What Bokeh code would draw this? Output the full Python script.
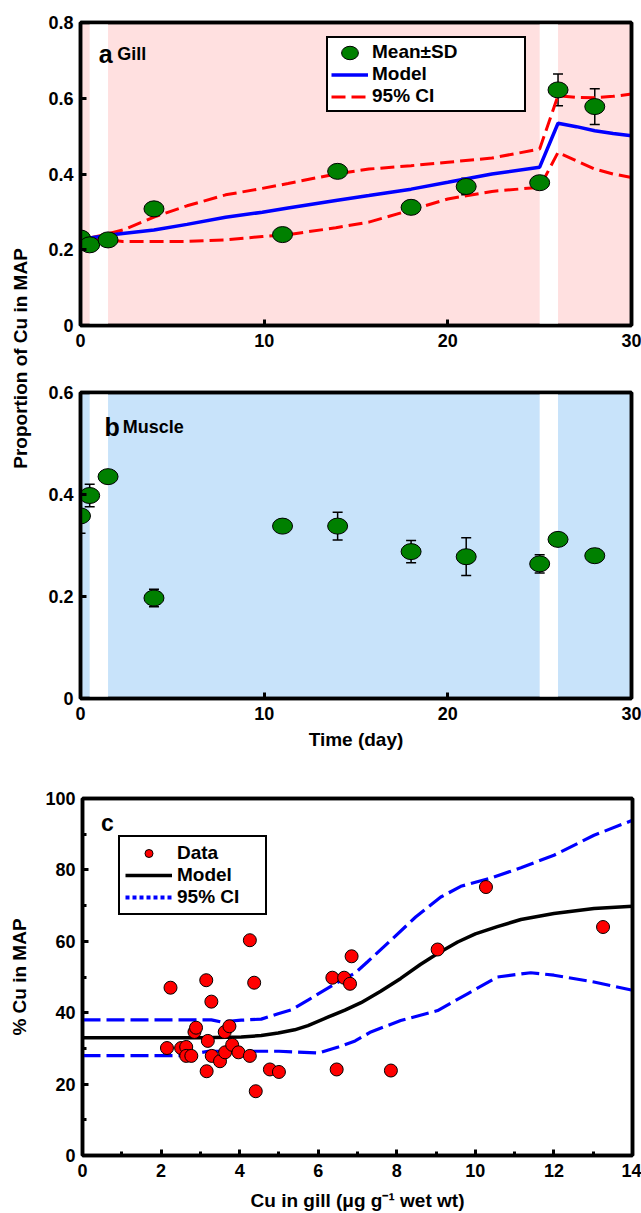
from math import pi
from bokeh.plotting import figure
from bokeh.models import (Range1d, FixedTicker, BoxAnnotation, Whisker, TeeHead,
                          ColumnDataSource, Legend, LegendItem, Label, LinearAxis)
from bokeh.layouts import column, row
from bokeh.embed import file_html
from bokeh.resources import INLINE

FONT = "Liberation Sans"

# ---------------- data ----------------
days = [0, 0.5, 1.5, 4, 11, 14, 18, 21, 25, 26, 28]
gill_mean = [0.231, 0.213, 0.226, 0.308, 0.240, 0.407, 0.312, 0.367, 0.377, 0.622, 0.578]
gill_sd = [0.010, 0.015, 0.008, 0.010, 0.008, 0.012, 0.010, 0.022, 0.010, 0.042, 0.047]
muscle_mean = [0.358, 0.398, 0.435, 0.197, 0.338, 0.338, 0.288, 0.278, 0.264, 0.312, 0.280]
muscle_sd = [0.034, 0.022, 0.010, 0.017, 0.010, 0.027, 0.022, 0.037, 0.018, 0.010, 0.013]

model_days = [0.5, 1.5, 2.3, 4, 5.8, 7.9, 9.9, 11.3, 13.9, 15.7, 18, 20, 22.4, 25, 26, 27, 28, 29, 30]
gill_model = [0.231, 0.238, 0.243, 0.252, 0.267, 0.286, 0.299, 0.310, 0.330, 0.343, 0.360,
              0.378, 0.400, 0.418, 0.534, 0.525, 0.514, 0.507, 0.501]
gill_ci_upper = [0.231, 0.242, 0.252, 0.286, 0.316, 0.345, 0.362, 0.375, 0.400, 0.413, 0.422,
                 0.431, 0.442, 0.466, 0.607, 0.602, 0.601, 0.605, 0.611]
gill_ci_lower = [0.229, 0.226, 0.222, 0.222, 0.222, 0.226, 0.235, 0.240, 0.258, 0.273, 0.305,
                 0.334, 0.354, 0.365, 0.457, 0.435, 0.413, 0.400, 0.391]

# depuration / re-exposure gaps (white stripes)
gap_start = [0.5, 25]
gap_end = [1.5, 26]

gill_cu = [2.15, 2.24, 2.51, 2.64, 2.64, 2.77, 2.85, 2.89, 3.15, 3.16, 3.19, 3.28, 3.29, 3.50,
           3.62, 3.63, 3.74, 3.81, 3.97, 4.26, 4.26, 4.37, 4.41, 4.77, 5.00, 6.36, 6.47, 6.66,
           6.81, 6.85, 7.85, 9.04, 10.27, 13.25]
map_pct = [30.1, 47.0, 30.1, 30.4, 27.9, 27.9, 34.6, 35.8, 49.1, 23.6, 32.1, 43.1, 27.9, 26.4,
           34.6, 28.9, 36.2, 31.0, 28.9, 60.3, 27.9, 48.4, 18.0, 24.1, 23.4, 49.8, 24.1, 49.8,
           48.1, 55.8, 23.8, 57.7, 75.2, 64.0]

c_model_x = [0, 1, 2, 3, 4.04, 4.55, 4.98, 5.4, 5.74, 6.26, 6.68, 7.09, 7.59, 8.1, 8.6, 9.04,
             9.55, 10.0, 10.56, 11.16, 12.0, 13.02, 14]
c_model_y = [33.0, 33.0, 33.0, 33.0, 33.2, 33.6, 34.3, 35.2, 36.4, 38.8, 40.7, 42.8, 46.0, 49.6,
             53.5, 56.6, 59.8, 62.1, 64.1, 66.1, 67.8, 69.2, 69.8]
c_upper_x = [0, 3.28, 3.53, 4.04, 4.55, 4.98, 5.32, 5.74, 6.0, 6.51, 6.94, 7.25, 7.85, 8.48,
             9.12, 9.63, 10.39, 11.16, 12.0, 13.02, 14]
c_upper_y = [38.0, 38.0, 37.4, 37.9, 38.2, 39.7, 40.8, 43.5, 45.3, 48.6, 51.1, 54.2, 60.3, 66.8,
             72.4, 75.4, 77.7, 80.6, 84.1, 89.7, 93.9]
c_lower_x = [0, 2.6, 3.2, 5.0, 5.4, 6.0, 6.51, 6.94, 7.34, 8.1, 9.04, 9.8, 10.56, 11.41, 12.0,
             13.02, 14]
c_lower_y = [28.0, 28.0, 29.2, 29.2, 29.0, 28.7, 30.4, 32.1, 34.6, 37.8, 40.6, 45.3, 50.0, 51.2,
             50.5, 48.6, 46.3]

time_ticks = [0, 10, 20, 30]
gill_yticks = [0, 0.2, 0.4, 0.6, 0.8]
muscle_yticks = [0, 0.2, 0.4, 0.6]
c_xticks = [0, 2, 4, 6, 8, 10, 12, 14]
c_xminor = [1, 3, 5, 7, 9, 11, 13]
c_yticks = [0, 20, 40, 60, 80, 100]
c_yminor = [10, 30, 50, 70, 90]

PINK = "#FFE0E0"
BLUE = "#C8E3FA"
GREEN = "#008000"


def style(p):
    p.grid.visible = False
    p.outline_line_color = "black"
    p.outline_line_width = 3.5
    p.outline_line_alpha = 1
    # plain axes on top and right so the frame is drawn thick on all sides
    for side in ("above", "right"):
        ax = LinearAxis(ticker=FixedTicker(ticks=[]), axis_line_width=3.5,
                        axis_line_color="black", major_tick_in=0, major_tick_out=0,
                        minor_tick_in=0, minor_tick_out=0, major_label_standoff=0,
                        major_label_text_font_size="0px")
        p.add_layout(ax, side)
    for ax in p.xaxis + p.yaxis:
        ax.axis_line_width = 3.5
        ax.axis_line_color = "black"
        ax.major_tick_line_width = 3
        ax.minor_tick_line_width = 3
        ax.major_tick_line_color = "black"
        ax.minor_tick_line_color = "black"
        ax.major_tick_out = 0
        ax.minor_tick_out = 0
        ax.major_label_text_font = FONT
        ax.major_label_text_font_style = "bold"
        ax.major_label_text_color = "black"
        ax.axis_label_text_font = FONT
        ax.axis_label_text_font_style = "bold"
        ax.axis_label_text_font_size = "19px"
        ax.axis_label_text_color = "black"
    for ax in (p.below[0], p.left[0]):
        ax.major_tick_in = 6
        ax.minor_tick_in = 0
        ax.major_label_text_font_size = "18px"
    p.below[0].major_label_standoff = 8
    p.left[0].major_label_standoff = 7


def time_panel(height, top, bottom, ymax, yticks, bg):
    p = figure(width=601, height=height, x_range=Range1d(0, 30), y_range=Range1d(0, ymax),
               output_backend="svg", toolbar_location=None,
               min_border_left=40, min_border_right=10, min_border_top=top,
               min_border_bottom=bottom)
    p.background_fill_color = bg
    p.border_fill_color = "white"
    style(p)
    p.below[0].ticker = FixedTicker(ticks=time_ticks)
    p.left[0].ticker = FixedTicker(ticks=yticks)
    p.left[0].major_label_overrides = {0: "0"}
    for a, b in zip(gap_start, gap_end):
        p.add_layout(BoxAnnotation(left=a, right=b, fill_color="white", fill_alpha=1,
                                   line_alpha=0, level="underlay"))
    return p


def add_points(p, mean, sd):
    src = ColumnDataSource(dict(x=days, y=mean,
                                upper=[m + s for m, s in zip(mean, sd)],
                                lower=[m - s for m, s in zip(mean, sd)]))
    w = Whisker(source=src, base="x", upper="upper", lower="lower", dimension="height",
                line_color="black", line_width=1.5, level="underlay",
                upper_head=TeeHead(size=10, line_width=1.5, line_color="black"),
                lower_head=TeeHead(size=10, line_width=1.5, line_color="black"))
    p.add_layout(w)
    return p.ellipse(x="x", y="y", width=20, height=16, width_units="screen",
                     height_units="screen", source=src, fill_color=GREEN,
                     line_color="black", line_width=1)


def legend(items, loc, pad, gw, gh, standoff, lw, spacing):
    return Legend(items=items, location=loc, orientation="vertical", margin=0, padding=pad,
                  spacing=spacing, glyph_width=gw, glyph_height=gh, label_height=gh,
                  label_standoff=standoff, label_width=lw, border_line_color="black",
                  border_line_width=2.5, border_line_alpha=1,
                  background_fill_color="white", background_fill_alpha=1,
                  label_text_font=FONT, label_text_font_style="bold",
                  label_text_font_size="19px", label_text_color="black")


def text(p, x, y, s, size):
    p.add_layout(Label(x=x, y=y, text=s, text_font=FONT, text_font_style="bold",
                       text_font_size=size, text_color="black", text_baseline="alphabetic"))


# ---------------- panel a ----------------
pa = time_panel(362, 22, 37, 0.8, gill_yticks, PINK)
r_up = pa.line(model_days, gill_ci_upper, line_color="#FF0000", line_width=3, line_dash="14 6")
pa.line(model_days, gill_ci_lower, line_color="#FF0000", line_width=3, line_dash="14 6")
r_model = pa.line(model_days, gill_model, line_color="#0000FF", line_width=3.5)
r_pts = add_points(pa, gill_mean, gill_sd)
text(pa, 1.0, 0.718, "a", "25px")
text(pa, 2.0, 0.718, "Gill", "18px")
pa.add_layout(legend([LegendItem(label="Mean±SD", renderers=[r_pts]),
                      LegendItem(label="Model", renderers=[r_model]),
                      LegendItem(label="95% CI", renderers=[r_up])],
                     (246, 213), 3, 37, 21, 4, 149, 0), "center")

# ---------------- panel b ----------------
pb = time_panel(398, 30, 62, 0.6, muscle_yticks, BLUE)
add_points(pb, muscle_mean, muscle_sd)
pb.below[0].axis_label = "Time (day)"
pb.below[0].axis_label_standoff = 6
text(pb, 1.3, 0.533, "b", "25px")
text(pb, 2.3, 0.533, "Muscle", "18px")

# shared y-axis title for a and b
lab = figure(width=40, height=760, x_range=Range1d(0, 1), y_range=Range1d(0, 1),
             output_backend="svg", toolbar_location=None, min_border=0,
             x_axis_location=None, y_axis_location=None)
lab.grid.visible = False
lab.outline_line_color = None
lab.add_layout(Label(x=0.5, y=0.529, text="Proportion of Cu in MAP", angle=pi / 2,
                     text_align="center", text_baseline="middle", text_font=FONT,
                     text_font_style="bold", text_font_size="19px", text_color="black"))

# ---------------- panel c ----------------
pc = figure(width=641, height=453, x_range=Range1d(0, 14), y_range=Range1d(0, 100),
            output_backend="svg", toolbar_location=None,
            min_border_left=82, min_border_right=9, min_border_top=38, min_border_bottom=58)
style(pc)
pc.below[0].ticker = FixedTicker(ticks=c_xticks, minor_ticks=c_xminor)
pc.left[0].ticker = FixedTicker(ticks=c_yticks, minor_ticks=c_yminor)
for ax in (pc.below[0], pc.left[0]):
    ax.minor_tick_in = 4
pc.below[0].axis_label = "Cu in gill (μg g⁻¹ wet wt)"
pc.left[0].axis_label = "% Cu in MAP"
pc.below[0].axis_label_standoff = 10
pc.left[0].axis_label_standoff = 12
pc.line(c_upper_x, c_upper_y, line_color="#0000FF", line_width=3.2, line_dash="18 6")
pc.line(c_lower_x, c_lower_y, line_color="#0000FF", line_width=3.2, line_dash="18 6")
r_cm = pc.line(c_model_x, c_model_y, line_color="black", line_width=3.5)
r_cd = pc.scatter(gill_cu, map_pct, size=13, fill_color="#FF0000", line_color="black",
                  line_width=1)
r_cci = pc.line(x=[float("nan")], y=[float("nan")], line_color="#0000FF", line_width=4,
                line_dash="4 3")
text(pc, 0.47, 93.0, "c", "23px")
pc.add_layout(legend([LegendItem(label="Data", renderers=[r_cd]),
                      LegendItem(label="Model", renderers=[r_cm]),
                      LegendItem(label="95% CI", renderers=[r_cci])],
                     (36, 240), 5, 47, 20, 5, 83, 0), "center")

layout = column(row(lab, column(pa, pb)), pc)
open("out.html", "w").write(file_html(layout, INLINE))
